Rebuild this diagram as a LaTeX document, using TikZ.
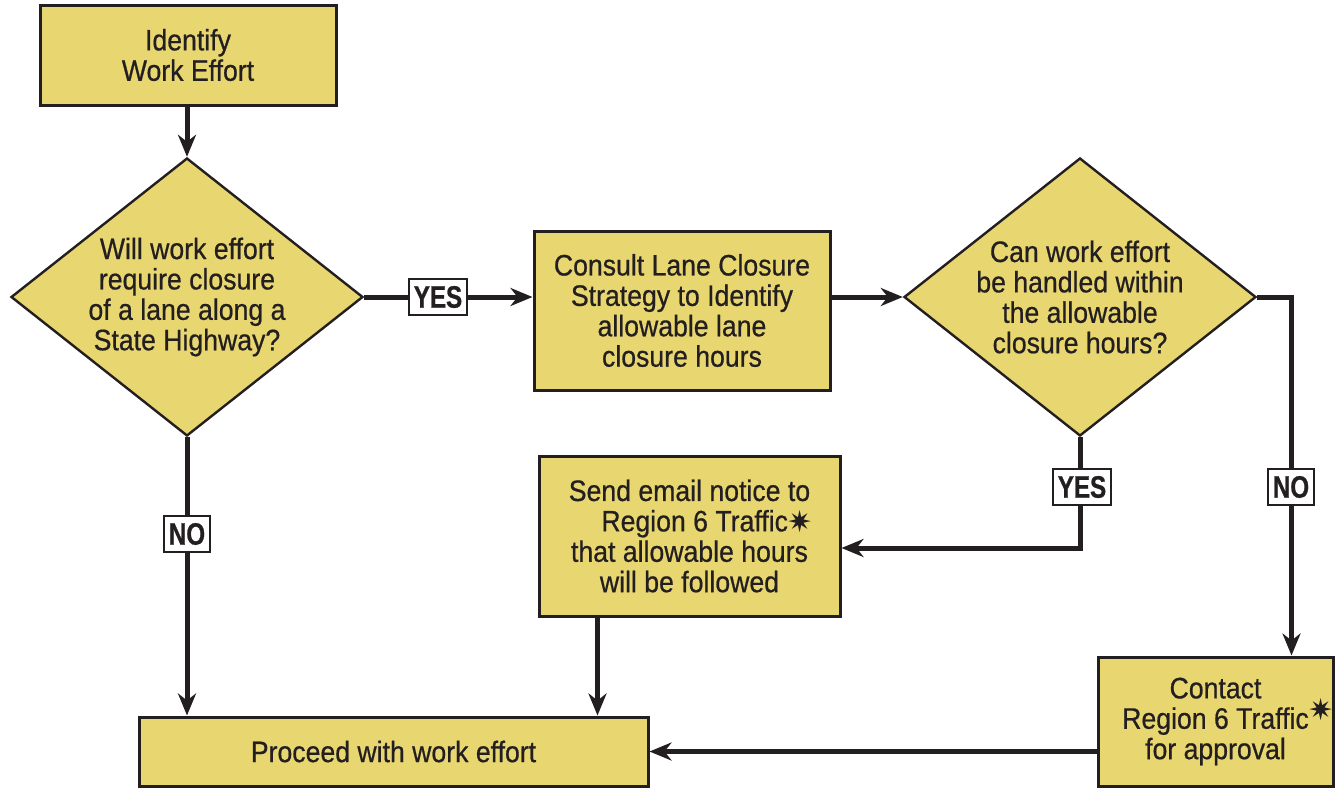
\documentclass[tikz,border=0pt]{standalone}
\usepackage{fontspec}
\setmainfont{Liberation Sans}[FakeStretch=0.9, FakeBold=0.6]
\newfontfamily\tagfont{Liberation Sans}[FakeStretch=0.78, FakeBold=0.8]
\newfontfamily\symfont{DejaVu Sans}
\usetikzlibrary{shapes.geometric,arrows.meta}
\definecolor{boxfill}{HTML}{E8D670}
\definecolor{ink}{HTML}{231F20}
\newcommand{\spark}[1]{\raisebox{#1}{\symfont\fontsize{15}{15}\selectfont ✷}}

\begin{document}
\begin{tikzpicture}[x=0.5pt,y=-0.5pt]
		\tikzset{stepbox/.style = {shape=rectangle, draw=ink, line width=1.5pt, fill=boxfill, text=ink, align=center, inner sep=0pt, font=\fontsize{14.8}{15.2}\selectfont},
			ask/.style = {shape=diamond, draw=ink, line width=1.2pt, fill=boxfill, text=ink, align=center, inner sep=0pt, aspect=1.27, minimum width=176pt, minimum height=139pt, font=\fontsize{14.8}{15.2}\selectfont},
			tag/.style = {shape=rectangle, draw=ink, line width=1pt, fill=white, text=ink, inner xsep=2.5pt, minimum height=17pt, font=\tagfont\bfseries\fontsize{15.5}{15.5}\selectfont},
			flow/.style = {draw=ink, line width=2.5pt, -{Stealth[length=11pt, width=9pt, inset=3.5pt]}}}
		\useasboundingbox (0,0) rectangle (1338,787);

		\node[stepbox, minimum width=148pt, minimum height=50pt] (identify) at (188,55) {Identify\\Work Effort};
		\node[ask] (ask_1) at (187,297) {Will work effort\\require closure\\of a lane along a\\State Highway?};
		\node[stepbox, minimum width=148pt, minimum height=79.5pt] (consult) at (682,310.5) {Consult Lane Closure\\Strategy to Identify\\allowable lane\\closure hours};
		\node[ask] (ask_2) at (1080,297) {Can work effort\\be handled within\\the allowable\\closure hours?};

		\node[stepbox, minimum width=150.5pt, minimum height=80pt] (email) at (689.5,536) {Send email notice to\\\hspace*{1.2em}Region 6 Traffic\spark{-0.1ex}\\that allowable hours\\will be followed};
		\node[stepbox, minimum width=117.5pt, minimum height=64.5pt] (contact) at (1215.5,721.5) {Contact\\Region 6 Traffic\rlap{\spark{0.5ex}}\\for approval};
		\node[stepbox, minimum width=254.5pt, minimum height=34.5pt] (proceed) at (393.5,751.5) {Proceed with work effort};

		\draw[flow] (identify.south -| ask_1.north) -- (ask_1.north);
		\draw[flow] (ask_1.east) -- (consult.west |- ask_1.east);
		\draw[flow] (consult.east |- ask_2.west) -- (ask_2.west);
		\draw[flow] (ask_2.south) |- ([yshift=-6pt]email.east);
		\draw[flow] (ask_2.east) -| ([xshift=38pt]contact.north);
		\draw[flow] (ask_1.south) -- (ask_1.south |- proceed.north);
		\draw[flow] ([xshift=-46pt]email.south) -- ([xshift=-46pt]email.south |- proceed.north);
		\draw[flow] (contact.west |- proceed.east) -- (proceed.east);

		\node[tag] (yes_1) at (438,297) {YES};
		\node[tag] (no_1) at (187,534) {NO};
		\node[tag] (yes_2) at (1082,487) {YES};
		\node[tag] (no_2) at (1291,487) {NO};

	\end{tikzpicture}
\end{document}
